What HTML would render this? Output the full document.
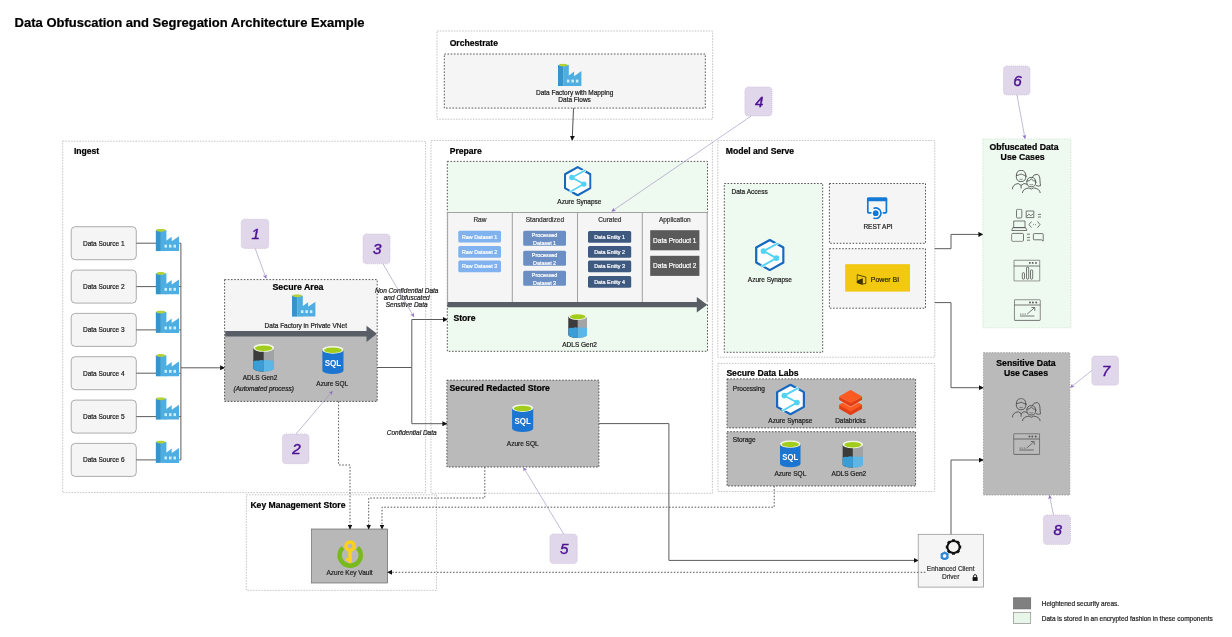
<!DOCTYPE html>
<html><head><meta charset="utf-8"><title>Data Obfuscation and Segregation Architecture Example</title>
<style>html,body{margin:0;padding:0;background:#fff;width:1232px;height:637px;overflow:hidden}svg{display:block;will-change:transform;font-family:"Liberation Sans",sans-serif}</style>
</head><body>
<svg width="1232" height="637" viewBox="0 0 1232 637" font-family="Liberation Sans, sans-serif">

<defs>
<marker id="ba" viewBox="0 0 10 10" refX="9" refY="5" markerWidth="5" markerHeight="5" orient="auto" markerUnits="userSpaceOnUse"><path d="M0,0 L10,5 L0,10 z" fill="#111"/></marker>
<marker id="pa" viewBox="0 0 10 10" refX="9" refY="5" markerWidth="4.2" markerHeight="4.2" orient="auto" markerUnits="userSpaceOnUse"><path d="M0,0 L10,5 L0,10 L3,5 z" fill="#8e72bf"/></marker>
<symbol id="adf" viewBox="0 0 24 23">
  <rect x="0" y="1.4" width="5.3" height="21" fill="#3694ca"/>
  <rect x="5.2" y="1.4" width="5.6" height="21" fill="#4eaee1"/>
  <polygon points="10.2,12.4 16.1,8 16.1,12.6 23.4,7.5 23.4,22.4 9.8,22.4 9.8,12.7" fill="#4eaee1"/>
  <ellipse cx="5.15" cy="1.5" rx="4.3" ry="1.45" fill="#b4d235"/>
  <rect x="8.9" y="16" width="2.5" height="2.9" fill="#cdeffc"/>
  <rect x="13.4" y="16" width="2.5" height="2.9" fill="#cdeffc"/>
  <rect x="17.9" y="16" width="2.5" height="2.9" fill="#cdeffc"/>
</symbol>
<symbol id="sql" viewBox="0 0 22 29">
  <path d="M0,4 L0,25 A11,3.8 0 0 0 22,25 L22,4 Z" fill="#1c76d1"/>
  <ellipse cx="11" cy="4" rx="11" ry="4" fill="#f2f7e6"/>
  <ellipse cx="11" cy="4.4" rx="9.2" ry="2.9" fill="#a3cd1c"/>
  <text x="11" y="20.5" font-size="10.2" font-weight="bold" fill="#fff" text-anchor="middle" textLength="17" lengthAdjust="spacingAndGlyphs" font-family="Liberation Sans, sans-serif">SQL</text>
</symbol>
<symbol id="adls" viewBox="0 0 21 28">
  <path d="M0,4 L0,24.5 A10.5,3.5 0 0 0 21,24.5 L21,4 Z" fill="#a2a3a5"/>
  <path d="M0,4 L10.5,4 L10.5,28 A10.5,3.5 0 0 1 0,24.5 Z" fill="#3b3b3b"/>
  <path d="M0,17.6 Q2.5,16.2 5,17 Q7.5,15.6 10.5,16.6 L10.5,28 A10.5,3.5 0 0 1 0,24.5 Z" fill="#3a9dd5"/>
  <path d="M10.5,16.6 Q13,15.4 16,16.8 Q18.5,16 21,17.2 L21,24.5 A10.5,3.5 0 0 1 10.5,28 Z" fill="#5cb6e6"/>
  <ellipse cx="10.5" cy="4" rx="10.5" ry="4" fill="#f2f7e6"/>
  <ellipse cx="10.5" cy="4.4" rx="8.7" ry="2.8" fill="#a3cd1c"/>
</symbol>
<symbol id="syn" viewBox="0 0 30 33">
  <polygon points="15,1.2 28.8,8.9 28.8,24.1 15,31.8 1.2,24.1 1.2,8.9" fill="#fff" stroke="#1769c0" stroke-width="2.3" stroke-linejoin="round"/>
  <polyline points="23.4,4.5 8.6,12.5 21.7,19.6 6.4,28.3" fill="none" stroke="#fff" stroke-width="3.2"/>
  <polyline points="23.4,4.5 8.6,12.5 21.7,19.6 6.4,28.3" fill="none" stroke="#52d3f4" stroke-width="1.9"/>
  <circle cx="8.6" cy="12.5" r="2.9" fill="#52d3f4"/>
  <circle cx="21.7" cy="19.6" r="2.9" fill="#52d3f4"/>
</symbol>
<symbol id="rest" viewBox="0 0 21 22">
  <rect x="0.95" y="0.95" width="18.7" height="14.6" rx="1" fill="none" stroke="#1379d6" stroke-width="1.8"/>
  <rect x="0.2" y="0.2" width="20.2" height="3.8" rx="1" fill="#1379d6"/>
  <path d="M6.66,11.1 A5.3,5.3 0 1 1 6.66,20.7" fill="none" stroke="#fff" stroke-width="3.4"/>
  <circle cx="8.9" cy="15.9" r="4.3" fill="#fff"/>
  <path d="M6.66,11.1 A5.3,5.3 0 1 1 6.66,20.7" fill="none" stroke="#1379d6" stroke-width="1.7"/>
  <circle cx="8.9" cy="15.9" r="2.9" fill="#1379d6"/>
</symbol>
<symbol id="pbi" viewBox="0 0 10.4 11">
  <path d="M0.7,6.2 L0.7,0.6 L9.5,3 L9.5,9.4 L6.4,9.9" fill="none" stroke="#3a3300" stroke-width="0.85" stroke-linejoin="round"/>
  <polygon points="0.2,6.6 6.4,4.1 6.4,10.8 0.2,8.8" fill="#3a3300"/>
</symbol>
<symbol id="dbx" viewBox="0 0 23 25.4">
  <polygon points="11.5,8.6 23,15.1 23,18.8 11.5,25.4 0,18.8 0,15.1" fill="#e23e17"/>
  <polygon points="11.5,8.6 23,15.1 11.5,21.6 0,15.1" fill="#fb5a21"/>
  <polygon points="0,6.6 11.5,13.1 23,6.6 23,10.4 11.5,17 0,10.4" fill="#fff" opacity="0.35" transform="translate(0,0.6)"/>
  <polygon points="0,6.6 11.5,13.1 23,6.6 23,10.2 11.5,16.7 0,10.2" fill="#e23e17"/>
  <polygon points="11.5,0 23,6.6 11.5,13.1 0,6.6" fill="#fb5a21"/>
</symbol>
<symbol id="kv" viewBox="0 0 26 28">
  <path d="M5.84,7.57 A10.6,10.6 0 1 0 20.56,7.57" fill="none" stroke="#78ba1c" stroke-width="4.4"/>
  <circle cx="13.1" cy="6.2" r="4.15" fill="none" stroke="#fcd11a" stroke-width="3.5"/>
  <path d="M11.2,10 L14.9,10 L14.9,21.6 Q14.9,23.3 13.05,23.3 Q11.2,23.3 11.2,21.6 Z" fill="#fcd11a"/>
  <rect x="9.1" y="18" width="2.4" height="3" rx="0.6" fill="#fcd11a"/>
</symbol>
<symbol id="gear" viewBox="0 0 22 22">
  <g transform="translate(13.5,9)">
    <circle r="6.1" fill="none" stroke="#111" stroke-width="2"/>
    <g fill="#111"><rect x="-1.5" y="-7.7" width="3" height="2.2" transform="rotate(0)"/><rect x="-1.5" y="-7.7" width="3" height="2.2" transform="rotate(45)"/><rect x="-1.5" y="-7.7" width="3" height="2.2" transform="rotate(90)"/><rect x="-1.5" y="-7.7" width="3" height="2.2" transform="rotate(135)"/><rect x="-1.5" y="-7.7" width="3" height="2.2" transform="rotate(180)"/><rect x="-1.5" y="-7.7" width="3" height="2.2" transform="rotate(225)"/><rect x="-1.5" y="-7.7" width="3" height="2.2" transform="rotate(270)"/><rect x="-1.5" y="-7.7" width="3" height="2.2" transform="rotate(315)"/></g>
  </g>
  <g transform="translate(4.6,17.9)">
    <circle r="2.9" fill="none" stroke="#2b88d8" stroke-width="2.2"/>
    <g fill="#2b88d8"><rect x="-0.7" y="-4.4" width="1.4" height="1" transform="rotate(0)"/><rect x="-0.7" y="-4.4" width="1.4" height="1" transform="rotate(60)"/><rect x="-0.7" y="-4.4" width="1.4" height="1" transform="rotate(120)"/><rect x="-0.7" y="-4.4" width="1.4" height="1" transform="rotate(180)"/><rect x="-0.7" y="-4.4" width="1.4" height="1" transform="rotate(240)"/><rect x="-0.7" y="-4.4" width="1.4" height="1" transform="rotate(300)"/></g>
  </g>
</symbol>
<symbol id="lock" viewBox="0 0 6 7">
  <path d="M1.5,3 L1.5,2 A1.5,1.5 0 0 1 4.5,2 L4.5,3" fill="none" stroke="#111" stroke-width="0.9"/>
  <rect x="0.5" y="3" width="5" height="3.8" fill="#111"/>
</symbol>
<symbol id="people" viewBox="0 0 30 23">
  <g fill="none" stroke="#4a4a4a" stroke-width="0.85" stroke-linecap="round" stroke-linejoin="round">
    <path d="M14.3,6.4 Q14.3,11.6 9.5,11.6 Q4.7,11.6 4.7,6.4 Q4.7,0.3 9.5,0.3 Q14.3,0.3 14.3,6.4 Z"/>
    <path d="M4.8,5.4 Q6.5,5.6 8,4.6 Q9.5,3.4 11,4.6 Q12.5,5.6 14.2,5.4"/>
    <path d="M8.2,9.2 Q9.5,10 10.8,9.2" stroke-width="0.6"/>
    <path d="M0.8,18.8 Q1,14.4 6.6,13.5 L9.5,15.4 L12.4,13.5 Q14.4,13.8 15.6,14.4"/>
    <path d="M9.5,15.4 L9.5,18.2"/>
    <path d="M24.2,12.3 Q24.2,16.8 19.7,16.8 Q15.2,16.8 15.2,12.3 Q15.2,7.4 19.7,7.4 Q24.2,7.4 24.2,12.3 Z"/>
    <path d="M15.3,11.2 Q18,11.2 19.7,9 Q21.5,11.2 24.1,11.2"/>
    <path d="M18.2,14.6 Q19.7,15.4 21.2,14.6" stroke-width="0.6"/>
    <path d="M20.5,7.5 Q22,4 25.6,4.3 Q28.4,5.2 28.4,10.5 Q28.6,14.2 29,15.6 Q27.5,16.6 24.6,15.6"/>
    <path d="M10.8,22.7 Q11.2,18.6 17.4,17.9 Q19.7,20.3 22,17.9 Q28.2,18.6 28.6,22.7"/>
  </g>
</symbol>
<symbol id="devices" viewBox="0 0 33 33">
  <g fill="none" stroke="#555" stroke-width="0.8" stroke-linejoin="round">
    <rect x="5.3" y="0.4" width="5.3" height="8.8" rx="1.1"/>
    <rect x="15" y="2.2" width="7.6" height="6.6"/>
    <path d="M15.6,7.6 L17.6,5.3 L19.6,6.9 L22,5.1"/>
    <path d="M26.8,5.6 L29.8,5.6 M26.8,8.2 L29.8,8.2"/>
    <rect x="2.5" y="12.2" width="11.3" height="6.6"/>
    <path d="M0.4,21.7 L15.6,21.7 L14.4,18.8 L1.6,18.8 Z"/>
    <path d="M20.3,12.7 L17.8,15.8 L20.3,18.9 M26.3,12.7 L28.8,15.8 L26.3,18.9"/>
    <path d="M22,15.8 L22.6,15.8 M24.2,15.8 L24.8,15.8" stroke-width="1"/>
    <rect x="0.4" y="24.6" width="11.9" height="8" rx="1.2"/>
    <path d="M15.7,25.4 L18.8,25.4 M15.7,28.6 L18.8,28.6 M15.7,31.4 L18.8,31.4"/>
    <path d="M23,24.8 L31.2,24.8 Q32,24.8 32,25.6 L32,32.4 L30.2,31 L23,31 Q22.2,31 22.2,30.2 L22.2,25.6 Q22.2,24.8 23,24.8 Z"/>
  </g>
</symbol>
<symbol id="dash" viewBox="0 0 27 22">
  <g fill="none" stroke="#555" stroke-width="0.8">
    <rect x="0.5" y="0.5" width="26" height="21" rx="0.6"/>
    <path d="M0.5,6.4 L26.5,6.4"/>
    <rect x="8.9" y="13" width="2.2" height="6.6" rx="1.1"/>
    <rect x="13.1" y="7.4" width="2.2" height="12.2" rx="1.1"/>
    <rect x="17.1" y="10.2" width="2.2" height="9.4" rx="1.1"/>
  </g>
  <g fill="#555"><circle cx="16.4" cy="3.3" r="0.95"/><circle cx="19.3" cy="3.3" r="0.95"/><circle cx="22.6" cy="3.3" r="0.95"/></g>
</symbol>
<symbol id="chart" viewBox="0 0 27 22">
  <g fill="none" stroke="#555" stroke-width="0.8">
    <rect x="0.5" y="0.5" width="26" height="20.7" rx="0.6"/>
    <path d="M0.5,5.8 L26.5,5.8"/>
    <path d="M6.2,16.8 L20.6,16.8"/>
    <path d="M6.2,14.9 L12.4,14.9" stroke-dasharray="1.3 1"/>
    <path d="M13.4,14.9 L20.6,8.6 M17.6,8.3 L21,8.3 L21,11.7"/>
  </g>
  <g fill="#555"><circle cx="16.2" cy="3.3" r="0.95"/><circle cx="19.1" cy="3.3" r="0.95"/><circle cx="22.5" cy="3.3" r="0.95"/></g>
</symbol>
</defs>

<text x="14.6" y="26.6" font-size="13" font-weight="bold" stroke="#000" stroke-width="0.22" fill="#000">Data Obfuscation and Segregation Architecture Example</text>
<rect x="437" y="31" width="275.6" height="88.2" stroke="#b8b8b8" stroke-width="0.8" stroke-dasharray="1.6 1.2" fill="none"/>
<text x="449.7" y="45.7" font-size="8.6" font-weight="bold" stroke="#000" stroke-width="0.22" fill="#000">Orchestrate</text>
<rect x="444.3" y="54" width="261.0" height="54.1" fill="#f5f5f5" stroke="#444" stroke-width="0.9" stroke-dasharray="1.6 1.6"/>
<use href="#adf" x="558" y="63.6" width="24" height="23"/>
<text x="574.6" y="95" font-size="6.5" stroke="#1a1a1a" stroke-width="0.2" text-anchor="middle" fill="#1a1a1a">Data Factory with Mapping</text>
<text x="574.6" y="102.3" font-size="6.5" stroke="#1a1a1a" stroke-width="0.2" text-anchor="middle" fill="#1a1a1a">Data Flows</text>
<line x1="573.5" y1="108.2" x2="572.2" y2="140.3" stroke="#222" stroke-width="0.8" marker-end="url(#ba)"/>
<rect x="62.7" y="141.2" width="362.9" height="351.4" stroke="#b8b8b8" stroke-width="0.8" stroke-dasharray="1.6 1.2" fill="none"/>
<text x="73.9" y="154.2" font-size="8.6" font-weight="bold" stroke="#000" stroke-width="0.22" fill="#000">Ingest</text>
<rect x="431" y="140.5" width="281.4" height="352.8" stroke="#b8b8b8" stroke-width="0.8" stroke-dasharray="1.6 1.2" fill="none"/>
<text x="449.7" y="154.1" font-size="8.6" font-weight="bold" stroke="#000" stroke-width="0.22" fill="#000">Prepare</text>
<rect x="717.8" y="140.5" width="217.0" height="216.7" stroke="#b8b8b8" stroke-width="0.8" stroke-dasharray="1.6 1.2" fill="none"/>
<text x="725.8" y="153.8" font-size="8.6" font-weight="bold" stroke="#000" stroke-width="0.22" fill="#000">Model and Serve</text>
<rect x="718" y="363.4" width="216.7" height="128.1" stroke="#b8b8b8" stroke-width="0.8" stroke-dasharray="1.6 1.2" fill="none"/>
<text x="726.4" y="375.9" font-size="8.6" font-weight="bold" stroke="#000" stroke-width="0.22" fill="#000">Secure Data Labs</text>
<rect x="246.3" y="494.8" width="190.2" height="95.5" stroke="#b8b8b8" stroke-width="0.8" stroke-dasharray="1.6 1.2" fill="none"/>
<text x="250.4" y="508.3" font-size="8.6" font-weight="bold" stroke="#000" stroke-width="0.22" fill="#000">Key Management Store</text>
<rect x="71.2" y="226.7" width="65.1" height="33.0" rx="4" fill="#f5f5f5" stroke="#8c8c8c" stroke-width="0.7"/>
<text x="103.75" y="245.6" font-size="6.5" stroke="#1a1a1a" stroke-width="0.2" text-anchor="middle" fill="#1a1a1a">Data Source 1</text>
<line x1="136.3" y1="243.2" x2="156" y2="243.2" stroke="#5c5c5c" stroke-width="1"/>
<line x1="178.5" y1="243.2" x2="180.9" y2="243.2" stroke="#5c5c5c" stroke-width="1"/>
<use href="#adf" x="155.6" y="228.70000000000002" width="24" height="23"/>
<rect x="71.2" y="270.1" width="65.1" height="33.0" rx="4" fill="#f5f5f5" stroke="#8c8c8c" stroke-width="0.7"/>
<text x="103.75" y="289.0" font-size="6.5" stroke="#1a1a1a" stroke-width="0.2" text-anchor="middle" fill="#1a1a1a">Data Source 2</text>
<line x1="136.3" y1="286.6" x2="156" y2="286.6" stroke="#5c5c5c" stroke-width="1"/>
<line x1="178.5" y1="286.6" x2="180.9" y2="286.6" stroke="#5c5c5c" stroke-width="1"/>
<use href="#adf" x="155.6" y="271.9" width="24" height="23"/>
<rect x="71.2" y="313.4" width="65.1" height="33.0" rx="4" fill="#f5f5f5" stroke="#8c8c8c" stroke-width="0.7"/>
<text x="103.75" y="332.29999999999995" font-size="6.5" stroke="#1a1a1a" stroke-width="0.2" text-anchor="middle" fill="#1a1a1a">Data Source 3</text>
<line x1="136.3" y1="329.9" x2="156" y2="329.9" stroke="#5c5c5c" stroke-width="1"/>
<line x1="178.5" y1="329.9" x2="180.9" y2="329.9" stroke="#5c5c5c" stroke-width="1"/>
<use href="#adf" x="155.6" y="310.5" width="24" height="23"/>
<rect x="71.2" y="356.7" width="65.1" height="33.0" rx="4" fill="#f5f5f5" stroke="#8c8c8c" stroke-width="0.7"/>
<text x="103.75" y="375.59999999999997" font-size="6.5" stroke="#1a1a1a" stroke-width="0.2" text-anchor="middle" fill="#1a1a1a">Data Source 4</text>
<line x1="136.3" y1="373.2" x2="156" y2="373.2" stroke="#5c5c5c" stroke-width="1"/>
<line x1="178.5" y1="373.2" x2="180.9" y2="373.2" stroke="#5c5c5c" stroke-width="1"/>
<use href="#adf" x="155.6" y="353.9" width="24" height="23"/>
<rect x="71.2" y="400.1" width="65.1" height="33.0" rx="4" fill="#f5f5f5" stroke="#8c8c8c" stroke-width="0.7"/>
<text x="103.75" y="419.0" font-size="6.5" stroke="#1a1a1a" stroke-width="0.2" text-anchor="middle" fill="#1a1a1a">Data Source 5</text>
<line x1="136.3" y1="416.6" x2="156" y2="416.6" stroke="#5c5c5c" stroke-width="1"/>
<line x1="178.5" y1="416.6" x2="180.9" y2="416.6" stroke="#5c5c5c" stroke-width="1"/>
<use href="#adf" x="155.6" y="397.2" width="24" height="23"/>
<rect x="71.2" y="443.4" width="65.1" height="33.0" rx="4" fill="#f5f5f5" stroke="#8c8c8c" stroke-width="0.7"/>
<text x="103.75" y="462.29999999999995" font-size="6.5" stroke="#1a1a1a" stroke-width="0.2" text-anchor="middle" fill="#1a1a1a">Data Source 6</text>
<line x1="136.3" y1="459.9" x2="156" y2="459.9" stroke="#5c5c5c" stroke-width="1"/>
<line x1="178.5" y1="459.9" x2="180.9" y2="459.9" stroke="#5c5c5c" stroke-width="1"/>
<use href="#adf" x="155.6" y="440.5" width="24" height="23"/>
<line x1="180.9" y1="243.2" x2="180.9" y2="459.9" stroke="#5c5c5c" stroke-width="1"/>
<line x1="180.9" y1="367.8" x2="224.6" y2="367.8" stroke="#5c5c5c" stroke-width="1" marker-end="url(#ba)"/>
<rect x="224.6" y="279.6" width="152.6" height="121.8" fill="#f5f5f5" stroke="none"/>
<rect x="224.6" y="335" width="152.6" height="66.4" fill="#bababa" stroke="none"/>
<rect x="224.6" y="279.6" width="152.6" height="121.8" fill="none" stroke="#444" stroke-width="0.9" stroke-dasharray="1.6 1.6"/>
<text x="298" y="290" font-size="8.8" font-weight="bold" stroke="#000" stroke-width="0.22" text-anchor="middle" fill="#000">Secure Area</text>
<use href="#adf" x="292" y="294.2" width="24" height="23"/>
<text x="305.8" y="327.6" font-size="6.5" stroke="#1a1a1a" stroke-width="0.2" text-anchor="middle" fill="#1a1a1a">Data Factory in Private VNet</text>
<path d="M225.2,331.1 L366.5,331.1 L366.5,325.8 L377,333.8 L366.5,341.9 L366.5,336.5 L225.2,336.5 Z" fill="#595e66"/>
<use href="#adls" x="253.2" y="343.8" width="21" height="28"/>
<text x="260" y="379.5" font-size="6.5" stroke="#1a1a1a" stroke-width="0.2" text-anchor="middle" fill="#1a1a1a">ADLS Gen2</text>
<text x="263.7" y="390.9" font-size="6.5" stroke="#1a1a1a" stroke-width="0.2" font-style="italic" text-anchor="middle" fill="#1a1a1a">(Automated process)</text>
<use href="#sql" x="322.2" y="345.8" width="21.5" height="28.6"/>
<text x="332.2" y="386.4" font-size="6.5" stroke="#1a1a1a" stroke-width="0.2" text-anchor="middle" fill="#1a1a1a">Azure SQL</text>
<polyline points="377.2,367.5 411.8,367.5 411.8,423.7 446.9,423.7" fill="none" stroke="#5c5c5c" stroke-width="1" marker-end="url(#ba)"/>
<polyline points="411.8,367.5 411.8,319.5 447.3,319.5" fill="none" stroke="#5c5c5c" stroke-width="1" marker-end="url(#ba)"/>
<text x="406.7" y="292.6" font-size="6.5" stroke="#1a1a1a" stroke-width="0.2" font-style="italic" text-anchor="middle" fill="#1a1a1a">Non Confidential Data</text>
<text x="406.7" y="299.9" font-size="6.5" stroke="#1a1a1a" stroke-width="0.2" font-style="italic" text-anchor="middle" fill="#1a1a1a">and Obfuscated</text>
<text x="406.7" y="307.4" font-size="6.5" stroke="#1a1a1a" stroke-width="0.2" font-style="italic" text-anchor="middle" fill="#1a1a1a">Sensitive Data</text>
<text x="411.7" y="435.3" font-size="6.5" stroke="#1a1a1a" stroke-width="0.2" font-style="italic" text-anchor="middle" fill="#1a1a1a">Confidential Data</text>
<rect x="447.3" y="161.4" width="260.2" height="189.9" fill="#eef9ef" stroke="none"/>
<rect x="447.3" y="161.4" width="260.2" height="189.9" fill="none" stroke="#444" stroke-width="0.9" stroke-dasharray="1.6 1.6"/>
<rect x="446.7" y="212.5" width="261.4" height="91.5" fill="#f5f5f5" stroke="none"/>
<line x1="447.3" y1="212.5" x2="707.5" y2="212.5" stroke="#8c8c8c" stroke-width="0.8"/>
<line x1="512.3" y1="212.5" x2="512.3" y2="302" stroke="#8c8c8c" stroke-width="0.8"/>
<line x1="577.5" y1="212.5" x2="577.5" y2="302" stroke="#8c8c8c" stroke-width="0.8"/>
<line x1="642.3" y1="212.5" x2="642.3" y2="302" stroke="#8c8c8c" stroke-width="0.8"/>
<line x1="447.6" y1="212.5" x2="447.6" y2="302" stroke="#8c8c8c" stroke-width="0.8"/>
<line x1="707.2" y1="212.5" x2="707.2" y2="302" stroke="#8c8c8c" stroke-width="0.8"/>
<use href="#syn" x="563.9" y="166" width="27.6" height="30.4"/>
<text x="579.4" y="203.6" font-size="6.5" stroke="#1a1a1a" stroke-width="0.2" text-anchor="middle" fill="#1a1a1a">Azure Synapse</text>
<text x="479.9" y="221.7" font-size="6.5" stroke="#333" stroke-width="0.2" text-anchor="middle" fill="#333">Raw</text>
<text x="544.9" y="221.7" font-size="6.5" stroke="#333" stroke-width="0.2" text-anchor="middle" fill="#333">Standardized</text>
<text x="609.9" y="221.7" font-size="6.5" stroke="#333" stroke-width="0.2" text-anchor="middle" fill="#333">Curated</text>
<text x="674.8" y="221.7" font-size="6.5" stroke="#333" stroke-width="0.2" text-anchor="middle" fill="#333">Application</text>
<rect x="458.3" y="230.8" width="42.7" height="11.8" rx="1.5" fill="#7fb2ee"/>
<text x="479.6" y="238.70000000000002" font-size="5.4" stroke="#fff" stroke-width="0.2" text-anchor="middle" fill="#fff">Raw Dataset 1</text>
<rect x="458.3" y="246" width="42.7" height="11.8" rx="1.5" fill="#7fb2ee"/>
<text x="479.6" y="253.9" font-size="5.4" stroke="#fff" stroke-width="0.2" text-anchor="middle" fill="#fff">Raw Dataset 2</text>
<rect x="458.3" y="260.5" width="42.7" height="11.8" rx="1.5" fill="#7fb2ee"/>
<text x="479.6" y="268.4" font-size="5.4" stroke="#fff" stroke-width="0.2" text-anchor="middle" fill="#fff">Raw Dataset 3</text>
<rect x="523.2" y="230.8" width="42.8" height="15.0" rx="1.5" fill="#6b8fc4"/>
<text x="544.6" y="236.9" font-size="5.4" stroke="#fff" stroke-width="0.2" text-anchor="middle" fill="#fff">Processed</text>
<text x="544.6" y="244.60000000000002" font-size="5.4" stroke="#fff" stroke-width="0.2" text-anchor="middle" fill="#fff">Dataset 1</text>
<rect x="523.2" y="250.8" width="42.8" height="15.0" rx="1.5" fill="#6b8fc4"/>
<text x="544.6" y="256.90000000000003" font-size="5.4" stroke="#fff" stroke-width="0.2" text-anchor="middle" fill="#fff">Processed</text>
<text x="544.6" y="264.6" font-size="5.4" stroke="#fff" stroke-width="0.2" text-anchor="middle" fill="#fff">Dataset 2</text>
<rect x="523.2" y="270.8" width="42.8" height="15.0" rx="1.5" fill="#6b8fc4"/>
<text x="544.6" y="276.90000000000003" font-size="5.4" stroke="#fff" stroke-width="0.2" text-anchor="middle" fill="#fff">Processed</text>
<text x="544.6" y="284.6" font-size="5.4" stroke="#fff" stroke-width="0.2" text-anchor="middle" fill="#fff">Dataset 3</text>
<rect x="588" y="231" width="43.2" height="11.7" rx="1.5" fill="#3f5a80"/>
<text x="609.6" y="238.9" font-size="5.4" stroke="#fff" stroke-width="0.2" text-anchor="middle" fill="#fff">Data Entity 1</text>
<rect x="588" y="246" width="43.2" height="11.7" rx="1.5" fill="#3f5a80"/>
<text x="609.6" y="253.9" font-size="5.4" stroke="#fff" stroke-width="0.2" text-anchor="middle" fill="#fff">Data Entity 2</text>
<rect x="588" y="260.5" width="43.2" height="11.7" rx="1.5" fill="#3f5a80"/>
<text x="609.6" y="268.4" font-size="5.4" stroke="#fff" stroke-width="0.2" text-anchor="middle" fill="#fff">Data Entity 3</text>
<rect x="588" y="276" width="43.2" height="11.7" rx="1.5" fill="#3f5a80"/>
<text x="609.6" y="283.9" font-size="5.4" stroke="#fff" stroke-width="0.2" text-anchor="middle" fill="#fff">Data Entity 4</text>
<rect x="650.2" y="230.2" width="49.2" height="20.1" fill="#5a5a5a"/>
<text x="674.8" y="242.7" font-size="6.5" stroke="#fff" stroke-width="0.2" text-anchor="middle" fill="#fff">Data Product 1</text>
<rect x="650.2" y="255.8" width="49.2" height="20.1" fill="#5a5a5a"/>
<text x="674.8" y="268.3" font-size="6.5" stroke="#fff" stroke-width="0.2" text-anchor="middle" fill="#fff">Data Product 2</text>
<path d="M447.3,302 L696.8,302 L696.8,297 L707.3,304.7 L696.8,312.5 L696.8,307.3 L447.3,307.3 Z" fill="#595e66"/>
<text x="453.5" y="321" font-size="8.6" font-weight="bold" stroke="#000" stroke-width="0.22" fill="#000">Store</text>
<use href="#adls" x="568.1" y="312.9" width="19.2" height="25"/>
<text x="579.6" y="346.6" font-size="6.5" stroke="#1a1a1a" stroke-width="0.2" text-anchor="middle" fill="#1a1a1a">ADLS Gen2</text>
<rect x="724.3" y="183.5" width="98.4" height="168.8" fill="#eef9ef" stroke="#444" stroke-width="0.9" stroke-dasharray="1.6 1.6"/>
<text x="731.5" y="194.4" font-size="6.5" stroke="#1a1a1a" stroke-width="0.2" fill="#1a1a1a">Data Access</text>
<use href="#syn" x="754.8" y="238.8" width="30" height="32.5"/>
<text x="769.9" y="282.3" font-size="6.5" stroke="#1a1a1a" stroke-width="0.2" text-anchor="middle" fill="#1a1a1a">Azure Synapse</text>
<rect x="829.4" y="183.5" width="96.1" height="59.8" fill="#f5f5f5" stroke="#444" stroke-width="0.9" stroke-dasharray="1.6 1.6"/>
<use href="#rest" x="866.8" y="197.3" width="21" height="22"/>
<text x="878" y="228.6" font-size="6.5" stroke="#1a1a1a" stroke-width="0.2" text-anchor="middle" fill="#1a1a1a">REST API</text>
<rect x="829.4" y="248.7" width="96.1" height="59.5" fill="#f5f5f5" stroke="#444" stroke-width="0.9" stroke-dasharray="1.6 1.6"/>
<rect x="845.2" y="264.2" width="64.8" height="27.4" fill="#f2c811"/>
<use href="#pbi" x="856.4" y="274.1" width="10.4" height="11"/>
<text x="885" y="282.4" font-size="7" stroke="#2a2600" stroke-width="0.2" text-anchor="middle" fill="#2a2600">Power BI</text>
<polyline points="934.6,248.7 951,248.7 951,234.4 982.9,234.4" fill="none" stroke="#5c5c5c" stroke-width="1" marker-end="url(#ba)"/>
<polyline points="934.6,302.6 951,302.6 951,387.7 983.3,387.7" fill="none" stroke="#5c5c5c" stroke-width="1" marker-end="url(#ba)"/>
<rect x="727" y="378.9" width="188.6" height="49.0" fill="#bababa" stroke="#444" stroke-width="0.9" stroke-dasharray="1.6 1.6"/>
<text x="732.8" y="391" font-size="6.5" stroke="#1a1a1a" stroke-width="0.2" fill="#1a1a1a">Processing</text>
<use href="#syn" x="775.5" y="383.5" width="30" height="32"/>
<text x="790.4" y="423.3" font-size="6.5" stroke="#1a1a1a" stroke-width="0.2" text-anchor="middle" fill="#1a1a1a">Azure Synapse</text>
<use href="#dbx" x="839.1" y="389.9" width="23" height="25.4"/>
<text x="850.5" y="423.3" font-size="6.5" stroke="#1a1a1a" stroke-width="0.2" text-anchor="middle" fill="#1a1a1a">Databricks</text>
<rect x="727" y="431.7" width="188.6" height="54.3" fill="#bababa" stroke="#444" stroke-width="0.9" stroke-dasharray="1.6 1.6"/>
<text x="732.8" y="442" font-size="6.5" stroke="#1a1a1a" stroke-width="0.2" fill="#1a1a1a">Storage</text>
<use href="#sql" x="779.8" y="440.3" width="21" height="27.3"/>
<text x="790.4" y="476.2" font-size="6.5" stroke="#1a1a1a" stroke-width="0.2" text-anchor="middle" fill="#1a1a1a">Azure SQL</text>
<use href="#adls" x="842.3" y="440.5" width="21" height="27.3"/>
<text x="848.9" y="476.2" font-size="6.5" stroke="#1a1a1a" stroke-width="0.2" text-anchor="middle" fill="#1a1a1a">ADLS Gen2</text>
<rect x="446.9" y="380.2" width="152.0" height="86.8" fill="#bababa" stroke="#444" stroke-width="0.9" stroke-dasharray="1.6 1.6"/>
<text x="449.5" y="391" font-size="8.7" font-weight="bold" stroke="#000" stroke-width="0.22" fill="#000">Secured Redacted Store</text>
<use href="#sql" x="511.7" y="404.2" width="22" height="28"/>
<text x="522.7" y="446.2" font-size="6.5" stroke="#1a1a1a" stroke-width="0.2" text-anchor="middle" fill="#1a1a1a">Azure SQL</text>
<polyline points="598.9,423.6 668.9,423.6 668.9,560.4 918.2,560.4" fill="none" stroke="#5c5c5c" stroke-width="1" marker-end="url(#ba)"/>
<rect x="311.6" y="529" width="76.0" height="54" fill="#b8b8b8" stroke="#555" stroke-width="0.6"/>
<use href="#kv" x="337" y="540" width="26" height="28"/>
<text x="349.6" y="575" font-size="6.5" stroke="#222" stroke-width="0.2" text-anchor="middle" fill="#222">Azure Key Vault</text>
<polyline points="338.6,401.4 338.6,465 350,465 350,529" fill="none" stroke="#333" stroke-width="0.8" stroke-dasharray="1.6 1.6" marker-end="url(#ba)"/>
<polyline points="484.8,467 484.8,498 368.7,498 368.7,529" fill="none" stroke="#333" stroke-width="0.8" stroke-dasharray="1.6 1.6" marker-end="url(#ba)"/>
<polyline points="774.2,486 774.2,507.2 382,507.2 382,529" fill="none" stroke="#333" stroke-width="0.8" stroke-dasharray="1.6 1.6" marker-end="url(#ba)"/>
<polyline points="925,572.3 387.6,572.3" fill="none" stroke="#333" stroke-width="0.8" stroke-dasharray="1.6 1.6" marker-end="url(#ba)"/>
<rect x="918.2" y="534.3" width="65.4" height="52.8" fill="#f5f5f5" stroke="#8c8c8c" stroke-width="0.7"/>
<line x1="925.4" y1="572.3" x2="918.6" y2="572.3" fill="none" stroke="#333" stroke-width="0.8" stroke-dasharray="1.6 1.6"/>
<use href="#gear" x="940" y="538" width="22" height="22"/>
<text x="950.7" y="570.8" font-size="6.5" stroke="#333" stroke-width="0.2" text-anchor="middle" fill="#333">Enhanced Client</text>
<text x="950.7" y="578.6" font-size="6.5" stroke="#333" stroke-width="0.2" text-anchor="middle" fill="#333">Driver</text>
<use href="#lock" x="972.1" y="574.1" width="6" height="7"/>
<polyline points="951,534.3 951,460 983.3,460" fill="none" stroke="#5c5c5c" stroke-width="1" marker-end="url(#ba)"/>
<rect x="982.8" y="139" width="88.2" height="188.8" fill="#eef9ef" stroke="#cfe6cf" stroke-width="0.8" stroke-dasharray="1.6 1.2"/>
<text x="1024" y="150" font-size="8.7" font-weight="bold" stroke="#000" stroke-width="0.22" text-anchor="middle" fill="#000">Obfuscated Data</text>
<text x="1022.6" y="160.2" font-size="8.7" font-weight="bold" stroke="#000" stroke-width="0.22" text-anchor="middle" fill="#000">Use Cases</text>
<use href="#people" x="1011.6" y="170" width="30" height="23"/>
<use href="#devices" x="1011.2" y="208.8" width="33" height="33"/>
<use href="#dash" x="1013.4" y="259.6" width="27" height="22"/>
<use href="#chart" x="1013.8" y="299.2" width="27" height="22"/>
<rect x="983.5" y="352.7" width="86.3" height="142.3" fill="#bababa" stroke="#999"  stroke-width="0.8" stroke-dasharray="1.6 1.2"/>
<text x="1026" y="365.5" font-size="8.7" font-weight="bold" stroke="#000" stroke-width="0.22" text-anchor="middle" fill="#000">Sensitive Data</text>
<text x="1026" y="375.6" font-size="8.7" font-weight="bold" stroke="#000" stroke-width="0.22" text-anchor="middle" fill="#000">Use Cases</text>
<use href="#people" x="1011.6" y="398.2" width="30" height="23"/>
<use href="#chart" x="1013.2" y="433.2" width="27" height="22"/>
<rect x="241.2" y="219.2" width="27.600000000000023" height="29.200000000000017" rx="3.5" fill="#e1d7ea" stroke="#cbbfd8" stroke-width="0.8" stroke-dasharray="1 1"/>
<text x="255.8" y="239.3" font-size="15.2" font-style="italic" text-anchor="middle" fill="#4b1094" stroke="#4b1094" stroke-width="0.45">1</text>
<line x1="255.2" y1="248.4" x2="266.1" y2="278.4" stroke="#9a8cc0" stroke-width="0.6" marker-end="url(#pa)"/>
<rect x="282.4" y="434" width="26.600000000000023" height="29.69999999999999" rx="3.5" fill="#e1d7ea" stroke="#cbbfd8" stroke-width="0.8" stroke-dasharray="1 1"/>
<text x="296.5" y="454.35" font-size="15.2" font-style="italic" text-anchor="middle" fill="#4b1094" stroke="#4b1094" stroke-width="0.45">2</text>
<line x1="296" y1="434" x2="332.4" y2="391.2" stroke="#9a8cc0" stroke-width="0.6" marker-end="url(#pa)"/>
<rect x="363" y="234" width="27" height="29.80000000000001" rx="3.5" fill="#e1d7ea" stroke="#cbbfd8" stroke-width="0.8" stroke-dasharray="1 1"/>
<text x="377.3" y="254.4" font-size="15.2" font-style="italic" text-anchor="middle" fill="#4b1094" stroke="#4b1094" stroke-width="0.45">3</text>
<line x1="383" y1="263.8" x2="413.8" y2="316.7" stroke="#9a8cc0" stroke-width="0.6" marker-end="url(#pa)"/>
<rect x="744.9" y="87" width="27.100000000000023" height="29" rx="3.5" fill="#e1d7ea" stroke="#cbbfd8" stroke-width="0.8" stroke-dasharray="1 1"/>
<text x="759.25" y="107.0" font-size="15.2" font-style="italic" text-anchor="middle" fill="#4b1094" stroke="#4b1094" stroke-width="0.45">4</text>
<line x1="751.2" y1="116" x2="611.8" y2="211.3" stroke="#9a8cc0" stroke-width="0.6" marker-end="url(#pa)"/>
<rect x="549.9" y="534" width="27.300000000000068" height="29.600000000000023" rx="3.5" fill="#e1d7ea" stroke="#cbbfd8" stroke-width="0.8" stroke-dasharray="1 1"/>
<text x="564.3499999999999" y="554.3" font-size="15.2" font-style="italic" text-anchor="middle" fill="#4b1094" stroke="#4b1094" stroke-width="0.45">5</text>
<line x1="563.7" y1="534" x2="523.5" y2="467.5" stroke="#9a8cc0" stroke-width="0.6" marker-end="url(#pa)"/>
<rect x="1003.4" y="66" width="26.600000000000023" height="29" rx="3.5" fill="#e1d7ea" stroke="#cbbfd8" stroke-width="0.8" stroke-dasharray="1 1"/>
<text x="1017.5" y="86.0" font-size="15.2" font-style="italic" text-anchor="middle" fill="#4b1094" stroke="#4b1094" stroke-width="0.45">6</text>
<line x1="1017" y1="95" x2="1025" y2="138.5" stroke="#9a8cc0" stroke-width="0.6" marker-end="url(#pa)"/>
<rect x="1091.8" y="356" width="26.700000000000045" height="29.19999999999999" rx="3.5" fill="#e1d7ea" stroke="#cbbfd8" stroke-width="0.8" stroke-dasharray="1 1"/>
<text x="1105.95" y="376.1" font-size="15.2" font-style="italic" text-anchor="middle" fill="#4b1094" stroke="#4b1094" stroke-width="0.45">7</text>
<line x1="1091.8" y1="370.5" x2="1070.5" y2="387.5" stroke="#9a8cc0" stroke-width="0.6" marker-end="url(#pa)"/>
<rect x="1043.4" y="515" width="27.09999999999991" height="29.399999999999977" rx="3.5" fill="#e1d7ea" stroke="#cbbfd8" stroke-width="0.8" stroke-dasharray="1 1"/>
<text x="1057.75" y="535.2" font-size="15.2" font-style="italic" text-anchor="middle" fill="#4b1094" stroke="#4b1094" stroke-width="0.45">8</text>
<line x1="1053.5" y1="515" x2="1049.5" y2="495.5" stroke="#9a8cc0" stroke-width="0.6" marker-end="url(#pa)"/>
<rect x="1013.6" y="597.8" width="17.1" height="11.1" fill="#808080" stroke="#666" stroke-width="0.7"/>
<rect x="1013.6" y="612.3" width="17.1" height="11.3" fill="#e8f6ea" stroke="#8c8c8c" stroke-width="0.7"/>
<text x="1041.8" y="606" font-size="6.5" stroke="#222" stroke-width="0.2" fill="#222">Heightened security areas.</text>
<text x="1041.8" y="620.5" font-size="6.5" stroke="#222" stroke-width="0.2" fill="#222">Data is stored in an encrypted fashion in these components</text>
</svg>
</body></html>
